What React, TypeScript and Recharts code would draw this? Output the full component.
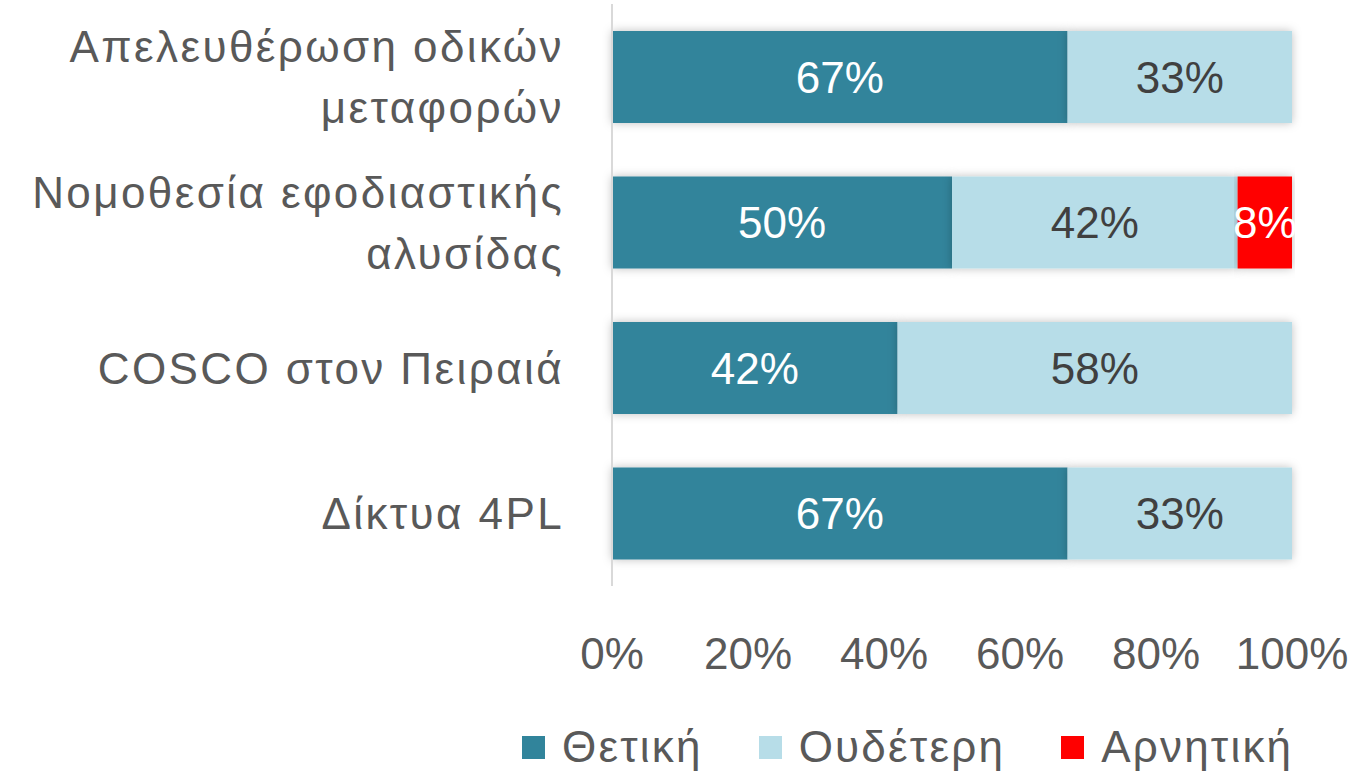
import React from 'react'
import { BarChart, Bar, XAxis, YAxis, Legend, LabelList } from 'recharts'

const categories = [
  ['Απελευθέρωση οδικών', 'μεταφορών'],
  ['Νομοθεσία εφοδιαστικής', 'αλυσίδας'],
  ['COSCO στον Πειραιά'],
  ['Δίκτυα 4PL'],
]
const positive = [67, 50, 42, 67]
const neutral = [33, 42, 58, 33]
const negative = [0, 8, 0, 0]
const xTicks = [0, 20, 40, 60, 80, 100]

const seriesKeys = ['positive', 'neutral', 'negative'] as const
const seriesNames = { positive: 'Θετική', neutral: 'Ουδέτερη', negative: 'Αρνητική' }
const colors = { positive: '#31849B', neutral: '#B7DDE8', negative: '#FF0000' }

const data = categories.map((lines, i) => ({
  name: lines.join('\n'),
  positive: positive[i],
  neutral: neutral[i],
  negative: negative[i],
}))

const FONT = '"Liberation Sans", Arial, sans-serif'

function CategoryTick({ x, y, payload }: any) {
  const lines = String(payload.value).split('\n')
  const lh = 61
  const start = y - ((lines.length - 1) * lh) / 2
  return (
    <text x={x - 40} textAnchor="end" fill="#595959" fontSize={44} fontFamily={FONT} letterSpacing={2.4}>
      {lines.map((l, i) => (
        <tspan key={i} x={x - 40} y={start + i * lh} dy="0.36em">
          {l}
        </tspan>
      ))}
    </text>
  )
}

function pct(v: any) {
  return v ? `${v}%` : ''
}

function LegendContent({ payload }: any) {
  const order = seriesKeys.map((k) => seriesNames[k])
  const items = [...(payload || [])].sort((a: any, b: any) => order.indexOf(a.value) - order.indexOf(b.value))
  return (
    <div style={{ display: 'flex', justifyContent: 'flex-start', alignItems: 'center', paddingLeft: 522, paddingTop: 4 }}>
      {items.map((p: any, i: number) => (
        <div key={i} style={{ display: 'flex', alignItems: 'center', marginRight: 56 }}>
          <span style={{ width: 23, height: 23, background: p.color, display: 'inline-block', marginRight: 17 }} />
          <span style={{ fontSize: 44, color: '#595959', fontFamily: FONT, lineHeight: '50px', letterSpacing: 2.2 }}>
            {p.value}
          </span>
        </div>
      ))}
    </div>
  )
}

export default function App() {
  return (
    <div style={{ position: 'absolute', left: 0, top: 0, background: '#fff' }}>
      <BarChart
        width={1352}
        height={772}
        data={data}
        layout="vertical"
        barCategoryGap={27}
        margin={{ top: 4, right: 60, bottom: 0, left: 0 }}
      >
        <defs>
          <filter id="shadow" x="-5%" y="-30%" width="110%" height="160%">
            <feDropShadow dx="0" dy="0" stdDeviation="5" floodColor="#000" floodOpacity="0.25" />
          </filter>
        </defs>
        <XAxis
          type="number"
          domain={[0, 100]}
          ticks={xTicks}
          tickFormatter={(v) => `${v}%`}
          axisLine={false}
          tickLine={false}
          tickMargin={46}
          height={132}
          tick={{ fill: '#595959', fontSize: 44, fontFamily: FONT }}
        />
        <YAxis
          type="category"
          dataKey="name"
          width={612}
          axisLine={{ stroke: '#D9D9D9', strokeWidth: 2 }}
          tickLine={false}
          tick={<CategoryTick />}
        />
        <Legend verticalAlign="bottom" content={<LegendContent />} />
        {seriesKeys.map((k) => (
          <Bar
            key={k}
            dataKey={k}
            name={seriesNames[k]}
            stackId="a"
            fill={colors[k]}
            filter="url(#shadow)"
            isAnimationActive={false}
          >
            <LabelList
              dataKey={k}
              position="center"
              formatter={pct}
              fill={k === 'neutral' ? '#404040' : '#FFFFFF'}
              fontSize={44}
              fontFamily={FONT}
            />
          </Bar>
        ))}
      </BarChart>
    </div>
  )
}
